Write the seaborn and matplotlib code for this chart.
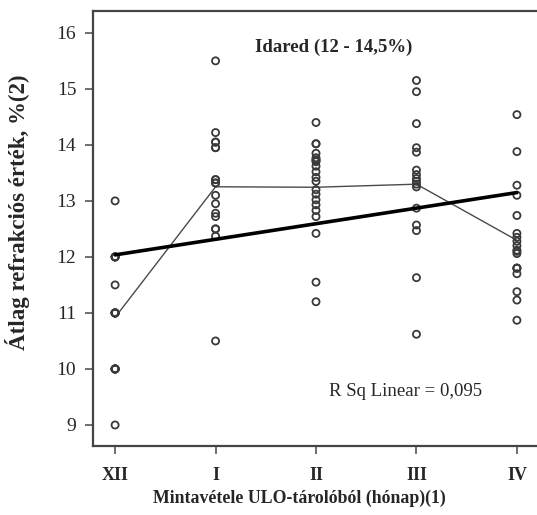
import numpy as np
import pandas as pd
import matplotlib
matplotlib.use("Agg")
import matplotlib.pyplot as plt
import seaborn as sns

# Sampling months from the ULO store
months = ["XII", "I", "II", "III", "IV"]

# Mean refraction values (%) per sampling month
vals_xii = [13, 12, 12, 12, 12, 11.5, 11, 11, 11, 11, 11, 11, 10, 10, 10, 10, 10, 10, 9]
vals_i = [15.5, 14.22, 14.05, 14.05, 13.95, 13.95, 13.38, 13.38, 13.32, 13.32, 13.1,
          12.95, 12.78, 12.72, 12.5, 12.5, 12.37, 10.5]
vals_ii = [14.4, 14.02, 14.02, 13.85, 13.77, 13.73, 13.73, 13.7, 13.62, 13.52,
           13.42, 13.35, 13.2, 13.12, 13.02, 12.93, 12.83, 12.72, 12.42, 11.55, 11.2]
vals_iii = [15.15, 14.95, 14.38, 13.95, 13.87, 13.55, 13.47, 13.4, 13.35, 13.3,
            13.25, 12.87, 12.57, 12.47, 11.63, 10.62]
vals_iv = [14.54, 13.88, 13.28, 13.1, 12.74, 12.42, 12.35, 12.28, 12.2, 12.12,
           12.1, 12.06, 11.8, 11.8, 11.8, 11.7, 11.38, 11.23, 10.87]

groups = [vals_xii, vals_i, vals_ii, vals_iii, vals_iv]
df = pd.DataFrame({
    "pos": np.concatenate([[k] * len(g) for k, g in enumerate(groups)]).astype(float),
    "val": np.concatenate(groups),
})

sns.set_style("white")
plt.rcParams["font.family"] = ["Liberation Serif", "DejaVu Serif"]

fig = plt.figure(figsize=(5.37, 5.15), dpi=100)
ax = fig.add_axes([93 / 537, 1 - 446 / 515, 1 - 93 / 537, (446 - 11) / 515])

# individual samples
sns.scatterplot(data=df, x="pos", y="val", ax=ax, marker="o", s=26,
                facecolor="none", edgecolor="#3a3a3a", linewidth=1.3, zorder=3)

# month means joined by a thin line
sns.lineplot(data=df, x="pos", y="val", ax=ax, estimator="mean", errorbar=None,
             color="#4a4a4a", lw=1.0, zorder=2)

# linear fit over all samples
sns.regplot(data=df, x="pos", y="val", ax=ax, scatter=False, ci=None,
            truncate=True, line_kws=dict(color="black", lw=2.6, zorder=4))

ax.set_xlim(-0.22, 4.2)
ax.set_ylim(8.625, 16.39)
ax.set_xticks(range(len(months)))
ax.set_xticklabels(months, fontsize=13, fontweight="bold")
ax.set_yticks(range(9, 17))
ax.set_yticklabels([str(v) for v in range(9, 17)], fontsize=14)
ax.tick_params(axis="x", direction="out", length=6, width=1.2, color="#555555",
               pad=9, bottom=True)
ax.tick_params(axis="y", direction="out", length=6, width=1.2, color="#555555",
               pad=6, left=True)

for side in ["left", "bottom", "top"]:
    ax.spines[side].set_color("#444444")
    ax.spines[side].set_linewidth(1.6)
ax.spines["right"].set_visible(False)

ax.set_xlabel("Mintavétele ULO-tárolóból (hónap)(1)", fontsize=12.8,
              fontweight="bold")
ax.xaxis.set_label_coords(0.465, -0.1)
ax.set_ylabel("Átlag refrakciós érték, %(2)", fontsize=16.5, fontweight="bold")
ax.yaxis.set_label_coords(-0.142, 0.537)

ax.text(2.18, 15.74, "Idared (12 - 14,5%)", ha="center", va="center",
        fontsize=13.5, fontweight="bold")
ax.text(2.895, 9.60, "R Sq Linear = 0,095", ha="center", va="center", fontsize=13.5)

fig.savefig("out.png", dpi=100)
